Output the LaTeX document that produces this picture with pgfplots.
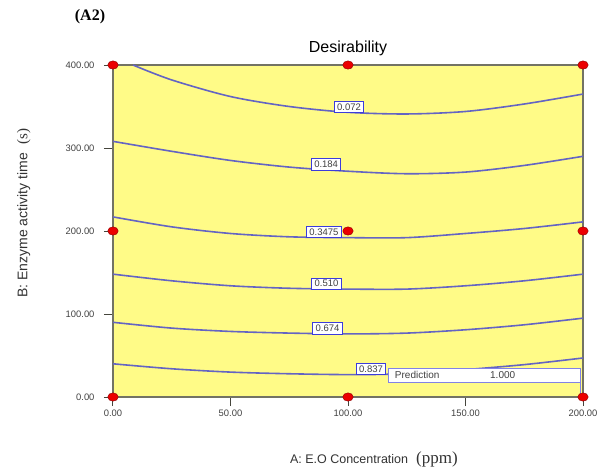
\documentclass[border=0pt]{standalone}
\usepackage{pgfplots}
\pgfplotsset{compat=1.18}
\usepackage{fontspec}
\setmainfont{Liberation Sans}
\newfontfamily\tnr{Liberation Serif}
\definecolor{bgyellow}{RGB}{255,251,135}
\definecolor{contourc}{RGB}{100,100,195}
\definecolor{lblblue}{RGB}{60,60,220}
\definecolor{predblue}{RGB}{130,130,230}
\definecolor{framec}{RGB}{115,115,100}
\definecolor{ticktext}{RGB}{65,65,65}
\definecolor{dotred}{RGB}{235,0,0}
\tikzset{lbl/.style={draw=lblblue, fill=white, line width=0.9bp, text=ticktext, font=\fontsize{9.5bp}{10bp}\selectfont, inner xsep=2.8bp, inner ysep=2.3bp, anchor=south, yshift=-1bp}}
\begin{document}
\begin{tikzpicture}
\useasboundingbox (-113bp,-74bp) rectangle (497bp,397bp);
\begin{axis}[
  scale only axis, width=470bp, height=332bp,
  xmin=0, xmax=200, ymin=0, ymax=400,
  clip=false,
  axis background/.style={fill=bgyellow},
  axis line style={draw=framec, line width=1.3bp},
  xtick={0,50,100,150,200}, ytick={0,100,200,300,400},
  tick pos=left, tick align=outside, major tick length=9bp,
  tick style={draw=framec!60!black, line width=1bp},
  /pgf/number format/assume math mode=true,
  /pgf/number format/fixed, /pgf/number format/fixed zerofill, /pgf/number format/precision=2,
  scaled ticks=false,
  ticklabel style={font=\fontsize{9.4bp}{10bp}\selectfont, text=ticktext},
  yticklabel style={xshift=-6bp},
  title={Desirability},
  title style={font=\fontsize{16bp}{16bp}\selectfont, at={(0.5,1)}, anchor=base, yshift=7bp},
  xlabel={A: E.O Concentration\hspace{8bp}{\tnr\fontsize{17bp}{17bp}\selectfont (ppm)}},
  xlabel style={font=\fontsize{12.5bp}{14bp}\selectfont, text=black!80, at={(axis description cs:0.555,-0.2018)}, anchor=base},
  ylabel={B: Enzyme activity time\hspace{9bp}{\tnr\fontsize{15bp}{15bp}\selectfont (s)}},
  ylabel style={font=\fontsize{14bp}{15bp}\selectfont, text=black!80, at={(axis description cs:-0.19,0.554)}, anchor=center},
]
\addplot[contourc, line width=1.6bp, smooth] coordinates {(8.5,400)(25,382)(50,362)(75,350)(100,343)(125,341)(150,344)(175,353)(200,365)} node[pos=0.515, lbl]{0.072};
\addplot[contourc, line width=1.6bp, smooth] coordinates {(0,308)(25,296)(50,285)(75,277)(100,272)(125,269)(150,271)(175,279)(200,290)} node[pos=0.462, lbl]{0.184};
\addplot[contourc, line width=1.6bp, smooth] coordinates {(0,217)(25,205)(50,197)(75,193)(100,192)(125,192)(150,197)(175,203)(200,211)} node[pos=0.455, lbl]{0.3475};
\addplot[contourc, line width=1.6bp, smooth] coordinates {(0,148)(25,140)(50,134)(75,131)(100,130)(125,130)(150,134)(175,140)(200,148)} node[pos=0.455, lbl]{0.510};
\addplot[contourc, line width=1.6bp, smooth] coordinates {(0,90)(25,83)(50,79)(75,77)(100,76)(125,77)(150,81)(175,87)(200,95)} node[pos=0.455, lbl]{0.674};
\addplot[contourc, line width=1.6bp, smooth] coordinates {(0,40)(25,34)(50,30)(75,28)(100,27)(125,28)(150,33)(175,39)(200,47)} node[pos=0.545, lbl]{0.837};
\draw[draw=predblue, fill=white, line width=0.9bp] (axis cs:117.4,18) rectangle (axis cs:199.1,35);
\draw[draw=predblue, line width=0.9bp] (axis cs:199.1,18) -- (axis cs:199.1,0);
\node[anchor=west, font=\fontsize{10bp}{10bp}\selectfont, text=ticktext] at (axis cs:118.5,26.5) {Prediction};
\node[anchor=west, font=\fontsize{10bp}{10bp}\selectfont, text=ticktext] at (axis cs:159,26.5) {1.000};
\addplot[only marks, mark=*, mark size=4.2bp, mark options={xscale=1.25, fill=dotred, draw=red!55!black, line width=0.4bp}] coordinates {(0,0)(100,0)(200,0)(0,200)(100,200)(200,200)(0,400)(100,400)(200,400)};
\end{axis}
\node[font=\tnr\bfseries\fontsize{16bp}{16bp}\selectfont] at (-23bp,380bp) {(A2)};
\end{tikzpicture}
\end{document}
